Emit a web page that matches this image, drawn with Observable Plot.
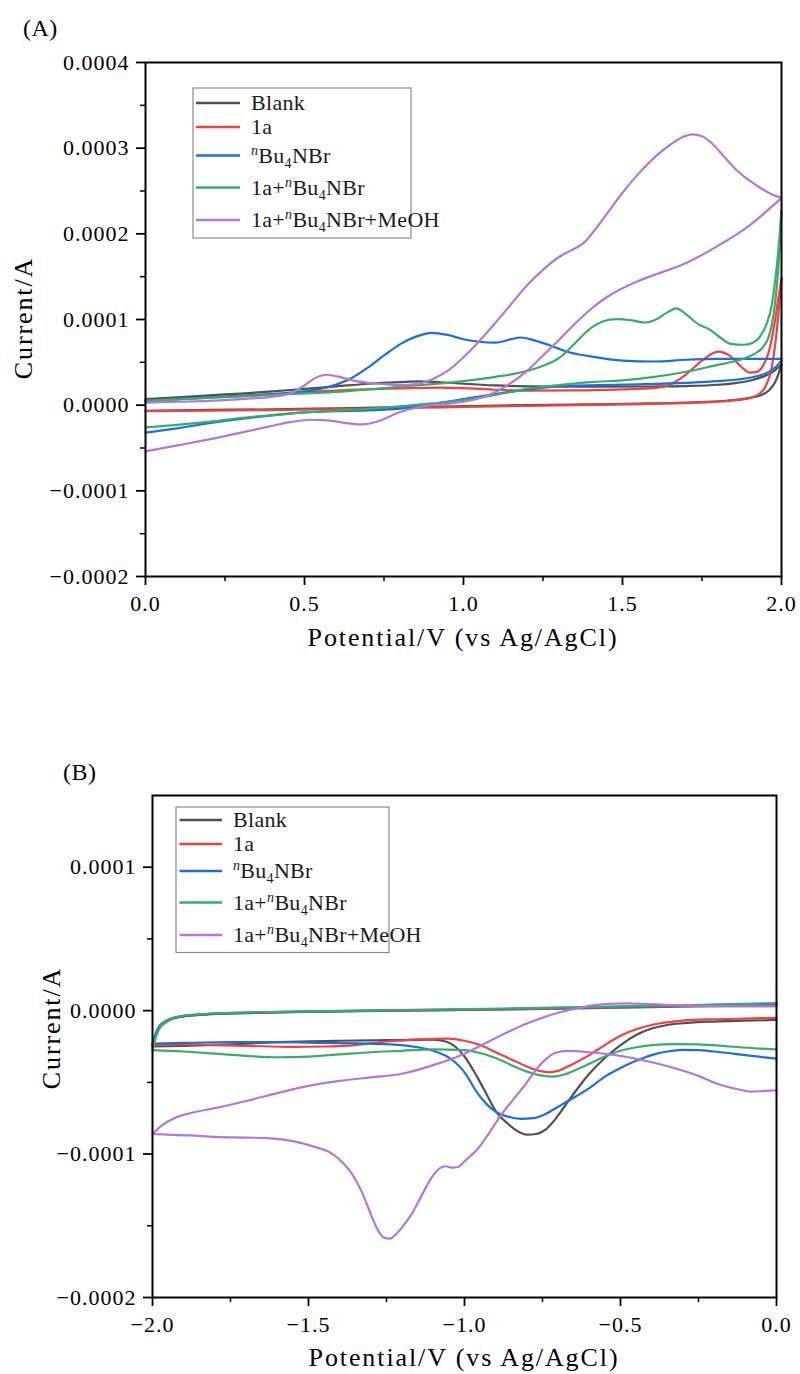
<!DOCTYPE html>
<html>
<head>
<meta charset="utf-8">
<script src="https://cdn.jsdelivr.net/npm/d3@7"></script>
<script src="https://cdn.jsdelivr.net/npm/@observablehq/plot@0.6"></script>
<style>
html,body{margin:0;padding:0;background:#fff;}
#wrap{width:800px;height:1374px;position:relative;overflow:hidden;}
#wrap svg{display:block;}
</style>
</head>
<body>
<div id="wrap"></div>
<script>
// ---- series ----
const seriesNames = ["Blank", "1a", "nBu4NBr", "1a+nBu4NBr", "1a+nBu4NBr+MeOH"];
const seriesColors = ["#515151", "#F14040", "#1A6FDF", "#37AD6B", "#B177DE"];
const legendLabels = [
  [["Blank"]],
  [["1a"]],
  [["n", "sup"], ["Bu"], ["4", "sub"], ["NBr"]],
  [["1a+"], ["n", "sup"], ["Bu"], ["4", "sub"], ["NBr"]],
  [["1a+"], ["n", "sup"], ["Bu"], ["4", "sub"], ["NBr+MeOH"]]
];

// ---- ticks ----
const xTicksA = [0, 0.5, 1.0, 1.5, 2.0];
const xMinorA = [0.25, 0.75, 1.25, 1.75];
const yTicksA = [-0.0002, -0.0001, 0, 0.0001, 0.0002, 0.0003, 0.0004];
const yMinorA = [-0.00015, -0.00005, 0.00005, 0.00015, 0.00025, 0.00035];
const xTicksB = [-2.0, -1.5, -1.0, -0.5, 0];
const xMinorB = [-1.75, -1.25, -0.75, -0.25];
const yTicksB = [-0.0002, -0.0001, 0, 0.0001];
const yMinorB = [-0.00015, -0.00005, 0.00005];

// ---- Panel A data: [potential V, current µA]; fwd = 0→2 V scan, rev = 2→0 V scan ----
const A_blank_fwd = [[0,7],[0.1,9],[0.2,11.5],[0.3,13.5],[0.4,16],[0.5,19],[0.6,22],[0.7,25],[0.8,27],[0.86,27.8],[0.92,27],[1.0,25],[1.1,23],[1.2,22],[1.4,21.5],[1.6,21.8],[1.7,22.3],[1.8,23.8],[1.85,25.5],[1.9,28.5],[1.94,33],[1.97,38],[1.99,44],[2.0,47]];
const A_blank_rev = [[0,-6.5],[0.2,-5.6],[0.4,-4.8],[0.6,-3.6],[0.8,-2.4],[1.0,-1.2],[1.2,0],[1.4,1],[1.6,2],[1.75,3.5],[1.85,6],[1.9,8.5],[1.93,11],[1.96,17],[1.98,27],[1.99,36],[2.0,47]];
const A_1a_fwd = [[0,5],[0.2,9],[0.4,13],[0.6,17],[0.8,19.5],[0.92,20.5],[1.0,20],[1.1,18],[1.2,17],[1.35,17.2],[1.5,18.5],[1.6,20],[1.65,24],[1.7,36],[1.75,52],[1.8,62.5],[1.84,57],[1.87,46],[1.9,38],[1.92,38.5],[1.94,45],[1.96,62],[1.98,100],[1.99,125],[2.0,148]];
const A_1a_rev = [[0,-7],[0.2,-6.3],[0.4,-5.7],[0.6,-4.5],[0.8,-3.3],[1.0,-2.1],[1.2,-0.9],[1.4,0.3],[1.6,1.5],[1.75,3.2],[1.85,5.5],[1.9,8.5],[1.93,13],[1.95,22],[1.97,45],[1.98,70],[1.99,105],[2.0,148]];
const A_bu_fwd = [[0,5],[0.2,9],[0.4,13],[0.5,16],[0.55,19],[0.6,24],[0.65,32],[0.7,44],[0.75,58],[0.8,71],[0.85,80],[0.9,84.5],[0.95,82],[1.0,77],[1.05,74],[1.1,73],[1.15,77],[1.18,79],[1.22,76],[1.27,70],[1.32,63],[1.4,57],[1.5,52],[1.6,51],[1.7,53],[1.8,54],[1.9,54],[2.0,54]];
const A_bu_rev = [[0,-32],[0.1,-27],[0.2,-21],[0.3,-16],[0.4,-12],[0.5,-8.5],[0.6,-7],[0.7,-6],[0.8,-4],[0.9,1],[1.0,7],[1.1,13],[1.2,18],[1.3,22],[1.5,24],[1.7,26],[1.8,28],[1.9,32],[1.95,37],[1.98,44],[2.0,52]];
const A_mix_fwd = [[0,5],[0.2,8.5],[0.4,12],[0.6,15.5],[0.8,21.5],[1.0,28],[1.1,33],[1.2,40],[1.25,46],[1.3,55],[1.35,72],[1.4,90],[1.44,98],[1.48,100.5],[1.53,99],[1.57,96.5],[1.61,101],[1.64,108],[1.67,113],[1.7,106],[1.74,94],[1.77,89],[1.8,81],[1.84,71.5],[1.88,70.5],[1.91,73],[1.93,79],[1.95,92],[1.97,118],[1.98,145],[1.99,180],[2.0,227]];
const A_mix_rev = [[0,-26],[0.1,-23],[0.2,-19.5],[0.3,-15],[0.4,-11.5],[0.5,-8.5],[0.6,-6.5],[0.7,-4.5],[0.8,-1.5],[0.9,2],[1.0,6],[1.1,12],[1.2,19],[1.3,23.5],[1.4,27],[1.5,29],[1.6,33],[1.7,39],[1.8,47],[1.85,51],[1.9,57],[1.92,61],[1.94,67],[1.96,80],[1.97,95],[1.98,120],[1.99,160],[2.0,227]];
const A_meoh_fwd = [[0,3],[0.1,4],[0.2,5],[0.3,7],[0.4,10],[0.45,13],[0.5,23],[0.53,31],[0.57,35.5],[0.61,33],[0.65,29],[0.7,26],[0.75,24.5],[0.8,23.5],[0.85,24.5],[0.9,30],[0.95,40],[1.0,56],[1.05,75],[1.1,96],[1.15,118],[1.2,140],[1.25,158],[1.3,173],[1.34,181],[1.38,190],[1.42,208],[1.46,228],[1.5,248],[1.55,270],[1.6,289],[1.65,304],[1.69,313],[1.72,316],[1.75,314],[1.78,306],[1.82,290],[1.86,274],[1.9,262],[1.94,252],[1.97,246],[2.0,242]];
const A_meoh_rev = [[0,-54],[0.1,-47],[0.2,-40],[0.3,-32],[0.4,-24],[0.45,-20],[0.52,-17],[0.58,-18],[0.63,-21],[0.68,-22.5],[0.73,-19],[0.8,-8],[0.85,-3],[0.9,0],[0.95,1.5],[1.0,4],[1.05,8],[1.1,15],[1.15,26],[1.2,40],[1.25,58],[1.3,76],[1.35,95],[1.4,112],[1.45,126],[1.55,145],[1.6,152],[1.7,166],[1.8,186],[1.9,210],[2.0,242]];

// ---- Panel B data: [potential V, current µA]; fwd = 0→−2 V scan, rev = −2→0 V scan ----
const B_blank_fwd = [[-2.0,-25],[-1.9,-24.5],[-1.75,-23.5],[-1.6,-22],[-1.4,-21],[-1.2,-20.5],[-1.1,-20.3],[-1.06,-21.5],[-1.03,-25],[-1.0,-32],[-0.96,-46],[-0.93,-58],[-0.9,-70],[-0.86,-79],[-0.83,-84],[-0.8,-86.5],[-0.77,-86],[-0.74,-83],[-0.71,-76],[-0.68,-67],[-0.64,-55],[-0.6,-44],[-0.55,-33],[-0.5,-24],[-0.45,-17],[-0.4,-12.5],[-0.35,-10],[-0.3,-8.8],[-0.2,-7.6],[-0.1,-7],[0,-6.5]];
const B_blank_rev = [[-2.0,-25],[-1.99,-18],[-1.98,-13],[-1.96,-8.5],[-1.94,-6],[-1.9,-4],[-1.85,-3],[-1.75,-2],[-1.6,-1.2],[-1.4,-0.5],[-1.2,0],[-1.0,0.5],[-0.8,1],[-0.6,1.8],[-0.4,2.5],[-0.2,3.2],[0,4]];
const B_1a_fwd = [[-2.0,-24],[-1.9,-23.5],[-1.8,-24],[-1.7,-24.5],[-1.55,-25.3],[-1.45,-25],[-1.35,-24],[-1.25,-21.5],[-1.15,-20],[-1.05,-19.5],[-1.0,-21],[-0.95,-24],[-0.9,-29],[-0.85,-34],[-0.8,-39],[-0.76,-42],[-0.73,-43],[-0.7,-42],[-0.66,-38],[-0.6,-31],[-0.55,-24],[-0.5,-17.5],[-0.45,-13],[-0.4,-10],[-0.3,-7],[-0.2,-6],[-0.1,-5.5],[0,-5]];
const B_1a_rev = [[-2.0,-24],[-1.99,-17],[-1.98,-12.5],[-1.96,-8],[-1.94,-5.8],[-1.9,-3.9],[-1.85,-2.9],[-1.75,-1.9],[-1.6,-1.1],[-1.4,-0.4],[-1.2,0.1],[-1.0,0.6],[-0.8,1.2],[-0.6,2],[-0.4,2.7],[-0.2,3.4],[0,4.2]];
const B_bu_fwd = [[-2.0,-23],[-1.9,-22.5],[-1.75,-22],[-1.6,-22],[-1.45,-22.5],[-1.3,-23],[-1.2,-24],[-1.15,-25.5],[-1.1,-28],[-1.06,-31.5],[-1.03,-36],[-1.0,-43],[-0.96,-57],[-0.93,-65],[-0.9,-70.5],[-0.86,-74],[-0.82,-75.5],[-0.78,-75],[-0.74,-72],[-0.7,-67],[-0.66,-62],[-0.6,-54],[-0.55,-46],[-0.5,-40],[-0.45,-35],[-0.4,-31],[-0.35,-28.5],[-0.3,-27.3],[-0.25,-27.5],[-0.2,-28.5],[-0.1,-31],[0,-33.5]];
const B_bu_rev = [[-2.0,-23],[-1.99,-16],[-1.98,-11.5],[-1.96,-7.5],[-1.94,-5.5],[-1.9,-3.8],[-1.85,-2.8],[-1.75,-1.8],[-1.6,-1],[-1.4,-0.3],[-1.2,0.3],[-1.0,0.8],[-0.8,1.5],[-0.6,2.3],[-0.4,3],[-0.2,4],[0,5]];
const B_mix_fwd = [[-2.0,-27.5],[-1.9,-28.5],[-1.8,-30],[-1.7,-31.5],[-1.6,-32.5],[-1.5,-32],[-1.4,-30.5],[-1.3,-29],[-1.2,-28],[-1.1,-27],[-1.0,-27.5],[-0.95,-29.5],[-0.9,-33],[-0.85,-38],[-0.8,-42.5],[-0.76,-45],[-0.72,-46],[-0.68,-44.5],[-0.64,-41],[-0.6,-37],[-0.55,-32],[-0.5,-28],[-0.45,-25.5],[-0.4,-24],[-0.33,-23.3],[-0.25,-23.5],[-0.15,-25],[-0.05,-26.5],[0,-27]];
const B_mix_rev = [[-2.0,-27.5],[-1.99,-19],[-1.98,-13],[-1.96,-8],[-1.94,-5.5],[-1.9,-3.5],[-1.85,-2.5],[-1.75,-1.5],[-1.6,-0.8],[-1.4,-0.2],[-1.2,0.4],[-1.0,1],[-0.8,1.7],[-0.6,2.5],[-0.4,3.3],[-0.2,4.2],[0,5.2]];
const B_meoh_fwd = [[-2.0,-86],[-1.95,-86.5],[-1.88,-87],[-1.8,-88],[-1.7,-88.5],[-1.62,-89],[-1.55,-91],[-1.48,-95],[-1.43,-99],[-1.39,-106],[-1.36,-114],[-1.33,-126],[-1.3,-142],[-1.28,-152],[-1.26,-158],[-1.24,-159],[-1.22,-156],[-1.2,-151],[-1.17,-142],[-1.14,-130],[-1.11,-118],[-1.08,-110],[-1.06,-108.5],[-1.04,-109.5],[-1.02,-109],[-1.0,-105],[-0.96,-97],[-0.92,-85],[-0.88,-72],[-0.84,-61],[-0.8,-50],[-0.77,-41],[-0.74,-34],[-0.71,-29.5],[-0.67,-28],[-0.6,-29],[-0.5,-31.5],[-0.4,-36],[-0.32,-40.5],[-0.25,-45.5],[-0.19,-51],[-0.12,-55],[-0.08,-56.5],[-0.04,-56],[0,-55.5]];
const B_meoh_rev = [[-2.0,-86],[-1.97,-80],[-1.93,-75],[-1.88,-71.5],[-1.8,-68],[-1.7,-63],[-1.6,-57.5],[-1.5,-52.5],[-1.4,-49],[-1.3,-46.5],[-1.2,-44],[-1.1,-38],[-1.0,-30],[-0.9,-19],[-0.8,-9],[-0.7,-1.5],[-0.62,2.5],[-0.55,4.5],[-0.48,5],[-0.4,4.5],[-0.3,3.5],[-0.15,3],[0,3]];

const panelAData = [
  [seriesNames[0], A_blank_fwd, A_blank_rev],
  [seriesNames[1], A_1a_fwd, A_1a_rev],
  [seriesNames[2], A_bu_fwd, A_bu_rev],
  [seriesNames[3], A_mix_fwd, A_mix_rev],
  [seriesNames[4], A_meoh_fwd, A_meoh_rev]
];
const panelBData = [
  [seriesNames[0], B_blank_fwd, B_blank_rev],
  [seriesNames[1], B_1a_fwd, B_1a_rev],
  [seriesNames[2], B_bu_fwd, B_bu_rev],
  [seriesNames[3], B_mix_fwd, B_mix_rev],
  [seriesNames[4], B_meoh_fwd, B_meoh_rev]
];

function buildRows(list) {
  const rows = [];
  list.forEach(([name, fwd, rev]) => {
    fwd.forEach(([x, v]) => rows.push({x, y: v * 1e-6, series: name, key: name + "|f"}));
    rev.forEach(([x, v]) => rows.push({x, y: v * 1e-6, series: name, key: name + "|r"}));
  });
  return rows;
}

const FONT = "'Liberation Serif', 'DejaVu Serif', serif";

function addRich(textSel, parts) {
  let shift = 0;
  parts.forEach(([t, kind]) => {
    const target = kind === "sup" ? -8 : kind === "sub" ? 5 : 0;
    const ts = textSel.append("tspan").text(t).attr("dy", target - shift);
    shift = target;
    if (kind) {
      ts.attr("font-size", 14);
      if (kind === "sup") ts.attr("font-style", "italic");
    }
  });
}

function makePanel(cfg) {
  const rows = buildRows(cfg.data);
  const svg = Plot.plot({
    width: 800,
    height: cfg.height,
    marginLeft: cfg.ml, marginRight: cfg.mr, marginTop: cfg.mt, marginBottom: cfg.mb,
    x: {domain: cfg.xDomain, label: null},
    y: {domain: cfg.yDomain, label: null},
    color: {domain: seriesNames, range: seriesColors},
    style: {background: "white", color: "black", fontFamily: FONT, fontSize: "22px", letterSpacing: "1px", overflow: "visible"},
    marks: [
      Plot.line(rows, {x: "x", y: "y", z: "key", stroke: "series", strokeWidth: 2.2, curve: "monotone-x"}),
      Plot.axisX({ticks: cfg.xTicks, tickSize: 9, tickPadding: 10, tickFormat: d3.format(".1f"), strokeWidth: 1.8, label: null}),
      Plot.axisX({ticks: cfg.xMinor, tickSize: 5, tickFormat: () => "", strokeWidth: 1.5, label: null}),
      Plot.axisY({ticks: cfg.yTicks, tickSize: 9, tickPadding: 7, tickFormat: d3.format(".4f"), strokeWidth: 1.8, label: null}),
      Plot.axisY({ticks: cfg.yMinor, tickSize: 5, tickFormat: () => "", strokeWidth: 1.5, label: null}),
      Plot.frame({stroke: "black", strokeWidth: 2})
    ]
  });
  const s = d3.select(svg);
  // panel tag
  s.append("text").attr("x", cfg.tag[0]).attr("y", cfg.tag[1]).attr("dy", "0.35em")
    .attr("text-anchor", "start")
    .attr("font-family", FONT).attr("font-size", 24).attr("fill", "black")
    .style("letter-spacing", "0.5px").text(cfg.tagText);
  // axis titles
  s.append("text").attr("x", cfg.xTitle[0]).attr("y", cfg.xTitle[1]).attr("dy", "0.35em")
    .attr("text-anchor", "middle").attr("font-family", FONT).attr("font-size", 26).attr("fill", "black")
    .style("letter-spacing", "1.9px").text("Potential/V (vs Ag/AgCl)");
  s.append("text").attr("transform", `translate(${cfg.yTitle[0]},${cfg.yTitle[1]}) rotate(-90)`).attr("dy", "0.35em")
    .attr("text-anchor", "middle").attr("font-family", FONT).attr("font-size", 26).attr("fill", "black")
    .style("letter-spacing", "1.9px").text("Current/A");
  // legend
  const L = cfg.legend;
  const g = s.append("g");
  g.append("rect").attr("x", L.x0).attr("y", L.y0).attr("width", L.x1 - L.x0).attr("height", L.y1 - L.y0)
    .attr("fill", "white").attr("stroke", "#8a8a8a").attr("stroke-width", 1.2);
  seriesNames.forEach((name, i) => {
    const ry = L.rows[i];
    g.append("line").attr("x1", L.lx0).attr("x2", L.lx1).attr("y1", ry).attr("y2", ry)
      .attr("stroke", seriesColors[i]).attr("stroke-width", 2.6);
    const t = g.append("text").attr("x", L.tx).attr("y", ry + 7)
      .attr("text-anchor", "start")
      .attr("font-family", FONT).attr("font-size", 22).attr("fill", "#1a1a1a").style("letter-spacing", "0.3px");
    addRich(t, legendLabels[i]);
  });
  return svg;
}

const wrap = document.getElementById("wrap");
wrap.appendChild(makePanel({
  data: panelAData, height: 700, ml: 145, mr: 19, mt: 62, mb: 124,
  xDomain: [0, 2], yDomain: [-0.0002, 0.0004],
  xTicks: xTicksA, xMinor: xMinorA, yTicks: yTicksA, yMinor: yMinorA,
  tag: [23, 28], tagText: "(A)", xTitle: [463, 637], yTitle: [23, 318],
  legend: {x0: 193, x1: 411, y0: 88, y1: 238, rows: [103, 127, 155.5, 187.5, 220], lx0: 196, lx1: 240, tx: 251}
}));
wrap.appendChild(makePanel({
  data: panelBData, height: 674, ml: 152, mr: 24, mt: 95, mb: 77,
  xDomain: [-2, 0], yDomain: [-0.0002, 0.00015],
  xTicks: xTicksB, xMinor: xMinorB, yTicks: yTicksB, yMinor: yMinorB,
  tag: [63, 72], tagText: "(B)", xTitle: [464, 657], yTitle: [51, 328],
  legend: {x0: 176, x1: 389, y0: 107, y1: 252.5, rows: [120, 144, 171, 202.5, 235], lx0: 179.5, lx1: 222, tx: 233}
}));
</script>
</body>
</html>
